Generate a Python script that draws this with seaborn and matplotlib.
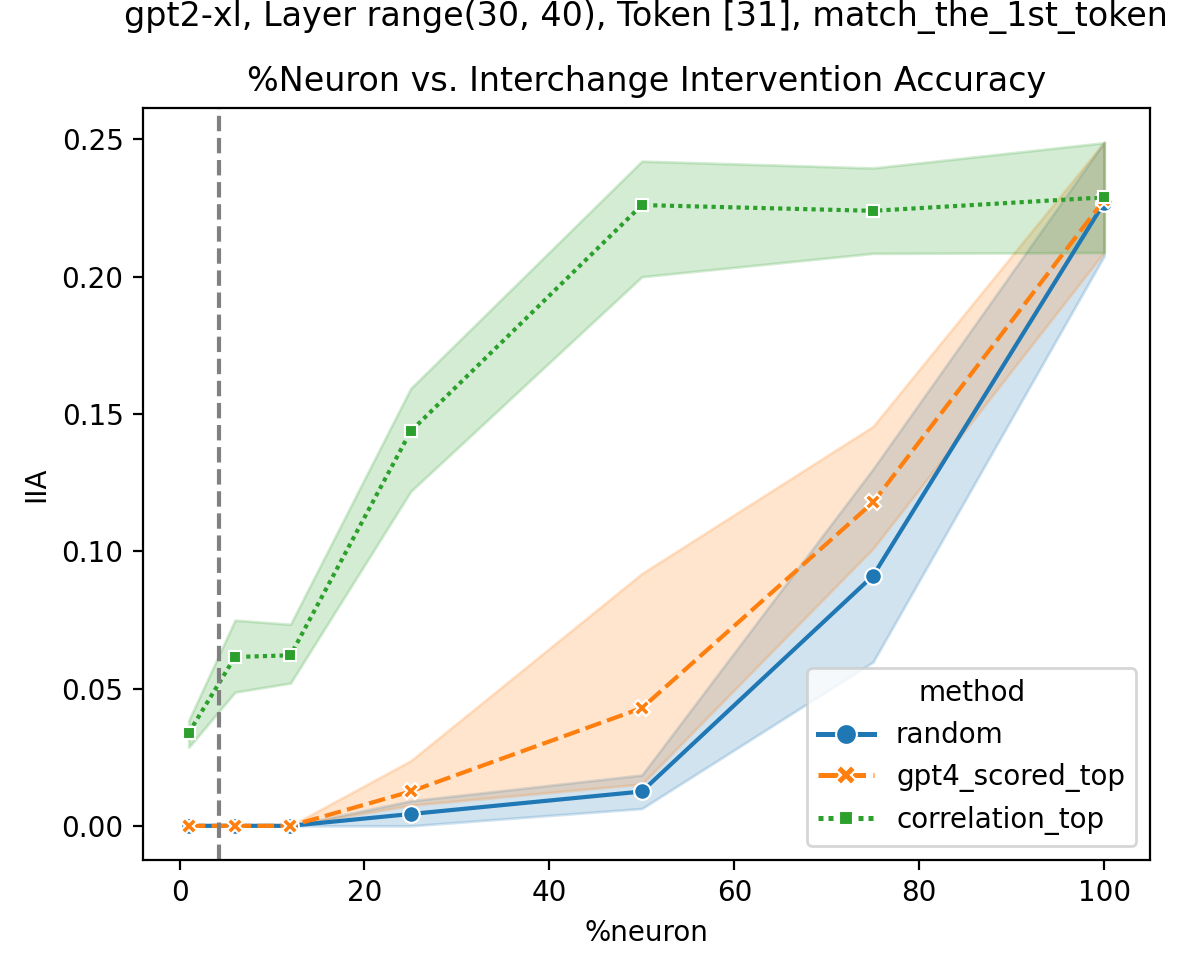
import matplotlib
matplotlib.use("Agg")
import matplotlib.pyplot as plt
import seaborn as sns
import pandas as pd

# ---- data ----
pct_neuron = [1, 6, 12, 25, 50, 75, 100]
methods = ["random", "gpt4_scored_top", "correlation_top"]

random_mean = [0.0, 0.0, 0.0, 0.0043, 0.0125, 0.0911, 0.2270]
random_low = [0.0, 0.0, 0.0, 0.0, 0.0063, 0.0597, 0.2076]
random_high = [0.0, 0.0, 0.0, 0.0091, 0.0185, 0.1300, 0.2490]

gpt4_mean = [0.0, 0.0, 0.0, 0.0125, 0.0429, 0.1178, 0.2280]
gpt4_low = [0.0, 0.0, 0.0, 0.0075, 0.0152, 0.1010, 0.2090]
gpt4_high = [0.0, 0.0, 0.0, 0.0237, 0.0919, 0.1455, 0.2490]

corr_mean = [0.0339, 0.0615, 0.0621, 0.1437, 0.2261, 0.2240, 0.2289]
corr_low = [0.0286, 0.0487, 0.0520, 0.1218, 0.2000, 0.2085, 0.2088]
corr_high = [0.0384, 0.0749, 0.0734, 0.1593, 0.2421, 0.2396, 0.2488]

vline_x = 4.24

suptitle_text = "gpt2-xl, Layer range(30, 40), Token [31], match_the_1st_token"
title_text = "%Neuron vs. Interchange Intervention Accuracy"

means = {"random": random_mean, "gpt4_scored_top": gpt4_mean, "correlation_top": corr_mean}
lows = {"random": random_low, "gpt4_scored_top": gpt4_low, "correlation_top": corr_low}
highs = {"random": random_high, "gpt4_scored_top": gpt4_high, "correlation_top": corr_high}

rows = []
for m in methods:
    for xv, yv in zip(pct_neuron, means[m]):
        rows.append({"%neuron": xv, "IIA": yv, "method": m})
df = pd.DataFrame(rows)

fig = plt.figure(figsize=(5.98, 4.835), dpi=200)
ax = fig.add_axes([143 / 1196, 107 / 967, 1007 / 1196, 752 / 967])

palette = sns.color_palette("tab10", 3)
sns.lineplot(data=df, x="%neuron", y="IIA", hue="method", style="method",
             hue_order=methods, style_order=methods, palette=palette,
             markers=True, errorbar=None, ax=ax)

for m, c in zip(methods, palette):
    ax.fill_between(pct_neuron, lows[m], highs[m], color=c, alpha=0.2)

ax.axvline(vline_x, color="grey", linestyle="--", linewidth=1.5)

ax.set_title(title_text, fontsize=12)
ax.set_xlabel("%neuron")
ax.set_ylabel("IIA")
ax.set_xticks([0, 20, 40, 60, 80, 100])
ax.set_yticks([0.0, 0.05, 0.10, 0.15, 0.20, 0.25])
ax.set_yticklabels(["0.00", "0.05", "0.10", "0.15", "0.20", "0.25"])
leg = ax.legend(title="method", loc="lower right")
for h in leg.legend_handles:
    h.set_markersize(7.5)
    h.set_linewidth(1.8)

fig.text(646 / 1196, 1 - 26 / 967, suptitle_text, ha="center", va="baseline", fontsize=12)

fig.savefig("out.png", dpi=200)
